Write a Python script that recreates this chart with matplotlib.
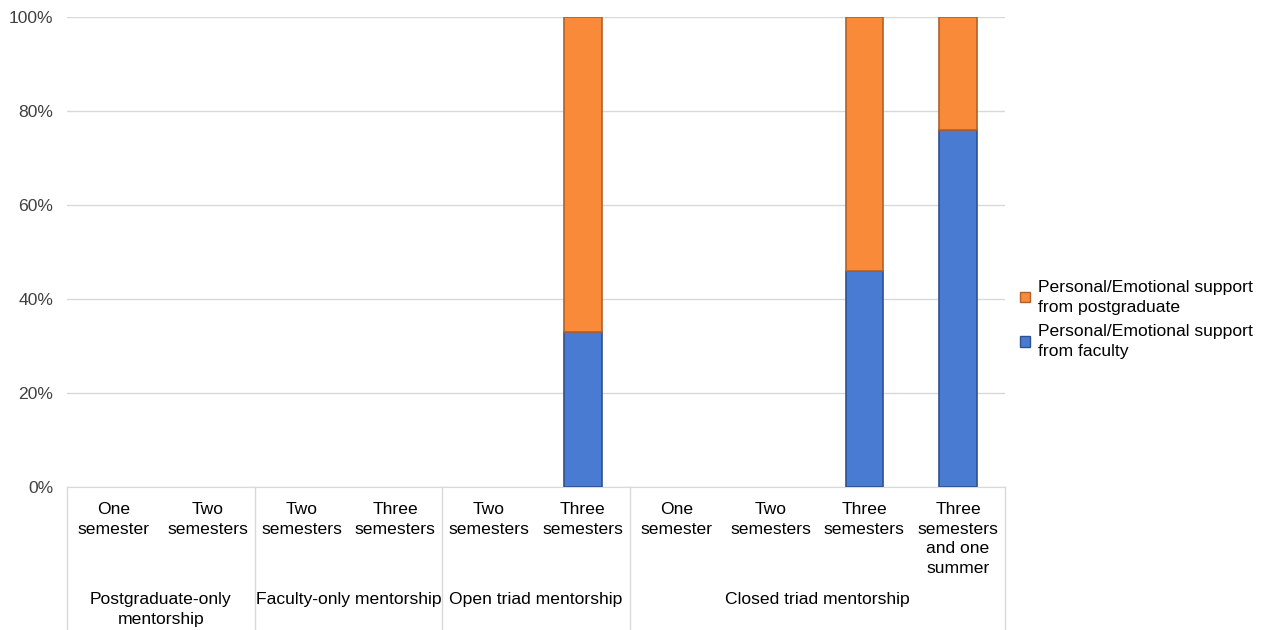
import matplotlib
matplotlib.use("Agg")
import matplotlib.pyplot as plt
from matplotlib.transforms import blended_transform_factory
from matplotlib.lines import Line2D
from matplotlib.patches import Patch

plt.rcParams['font.family'] = ['Liberation Sans', 'DejaVu Sans']

categories = ["One\nsemester", "Two\nsemesters",
              "Two\nsemesters", "Three\nsemesters",
              "Two\nsemesters", "Three\nsemesters",
              "One\nsemester", "Two\nsemesters", "Three\nsemesters",
              "Three\nsemesters\nand one\nsummer"]
groups = ["Postgraduate-only\nmentorship", "Faculty-only mentorship",
          "Open triad mentorship", "Closed triad mentorship"]
group_sizes = [2, 2, 2, 4]
faculty = [0, 0, 0, 0, 0, 33, 0, 0, 46, 76]
postgrad = [0, 0, 0, 0, 0, 67, 0, 0, 54, 24]
yticks = [0, 20, 40, 60, 80, 100]
ytick_labels = ["0%", "20%", "40%", "60%", "80%", "100%"]

W, H = 1262, 630
fig = plt.figure(figsize=(W / 100, H / 100), dpi=100)
L, R, T, B = 67, 1005, 17, 487
ax = fig.add_axes([L / W, 1 - B / H, (R - L) / W, (B - T) / H])

blue = "#4A7BD3"
orange = "#F98A3A"
FS = 12.6
LS = 1.38
x = list(range(len(categories)))
ax.bar(x, faculty, width=0.4, color=blue, edgecolor="#2F528F",
       linewidth=[1.2 if v else 0 for v in faculty], zorder=3)
ax.bar(x, postgrad, width=0.4, bottom=faculty, color=orange, edgecolor="#B0602A",
       linewidth=[1.2 if v else 0 for v in postgrad], zorder=3)

ax.set_xlim(-0.5, len(categories) - 0.5)
ax.set_ylim(0, 100)
ax.set_yticks(yticks)
ax.set_yticklabels(ytick_labels, fontsize=FS, color="#404040")
ax.tick_params(axis='y', length=0, pad=10)
ax.set_xticks([])
ax.grid(axis='y', color="#D9D9D9", linewidth=1, zorder=0)
for s in ["left", "right", "top"]:
    ax.spines[s].set_visible(False)
ax.spines["bottom"].set_color("#D9D9D9")

tr = blended_transform_factory(ax.transData, ax.transAxes)
ph = B - T
for i, lab in enumerate(categories):
    ax.text(i, -(502 - B) / ph, lab, transform=tr, ha='center', va='top',
            fontsize=FS, color="#000000", linespacing=LS)

ylow = -(H - B) / ph
start = 0
bounds = [-0.5]
for g, n in zip(groups, group_sizes):
    center = start + (n - 1) / 2
    ax.text(center, -(592 - B) / ph, g, transform=tr, ha='center', va='top',
            fontsize=FS, linespacing=LS)
    start += n
    bounds.append(start - 0.5)
for b in bounds:
    ax.add_line(Line2D([b, b], [0, ylow - 0.05], transform=tr, color="#D9D9D9",
                       linewidth=1, clip_on=False))

handles = [Patch(facecolor=orange, edgecolor="#B0602A"),
           Patch(facecolor=blue, edgecolor="#2F528F")]
labels = ["Personal/Emotional support\nfrom postgraduate",
          "Personal/Emotional support\nfrom faculty"]
leg = fig.legend(handles, labels, loc='upper left', bbox_to_anchor=(1020 / W, 1 - 280 / H),
                 frameon=False, fontsize=FS, handlelength=0.55, handleheight=0.55,
                 handletextpad=0.5, labelspacing=0.55, borderaxespad=0, borderpad=0)
for t in leg.get_texts():
    t.set_linespacing(LS)

fig.savefig("out.png", dpi=100)
